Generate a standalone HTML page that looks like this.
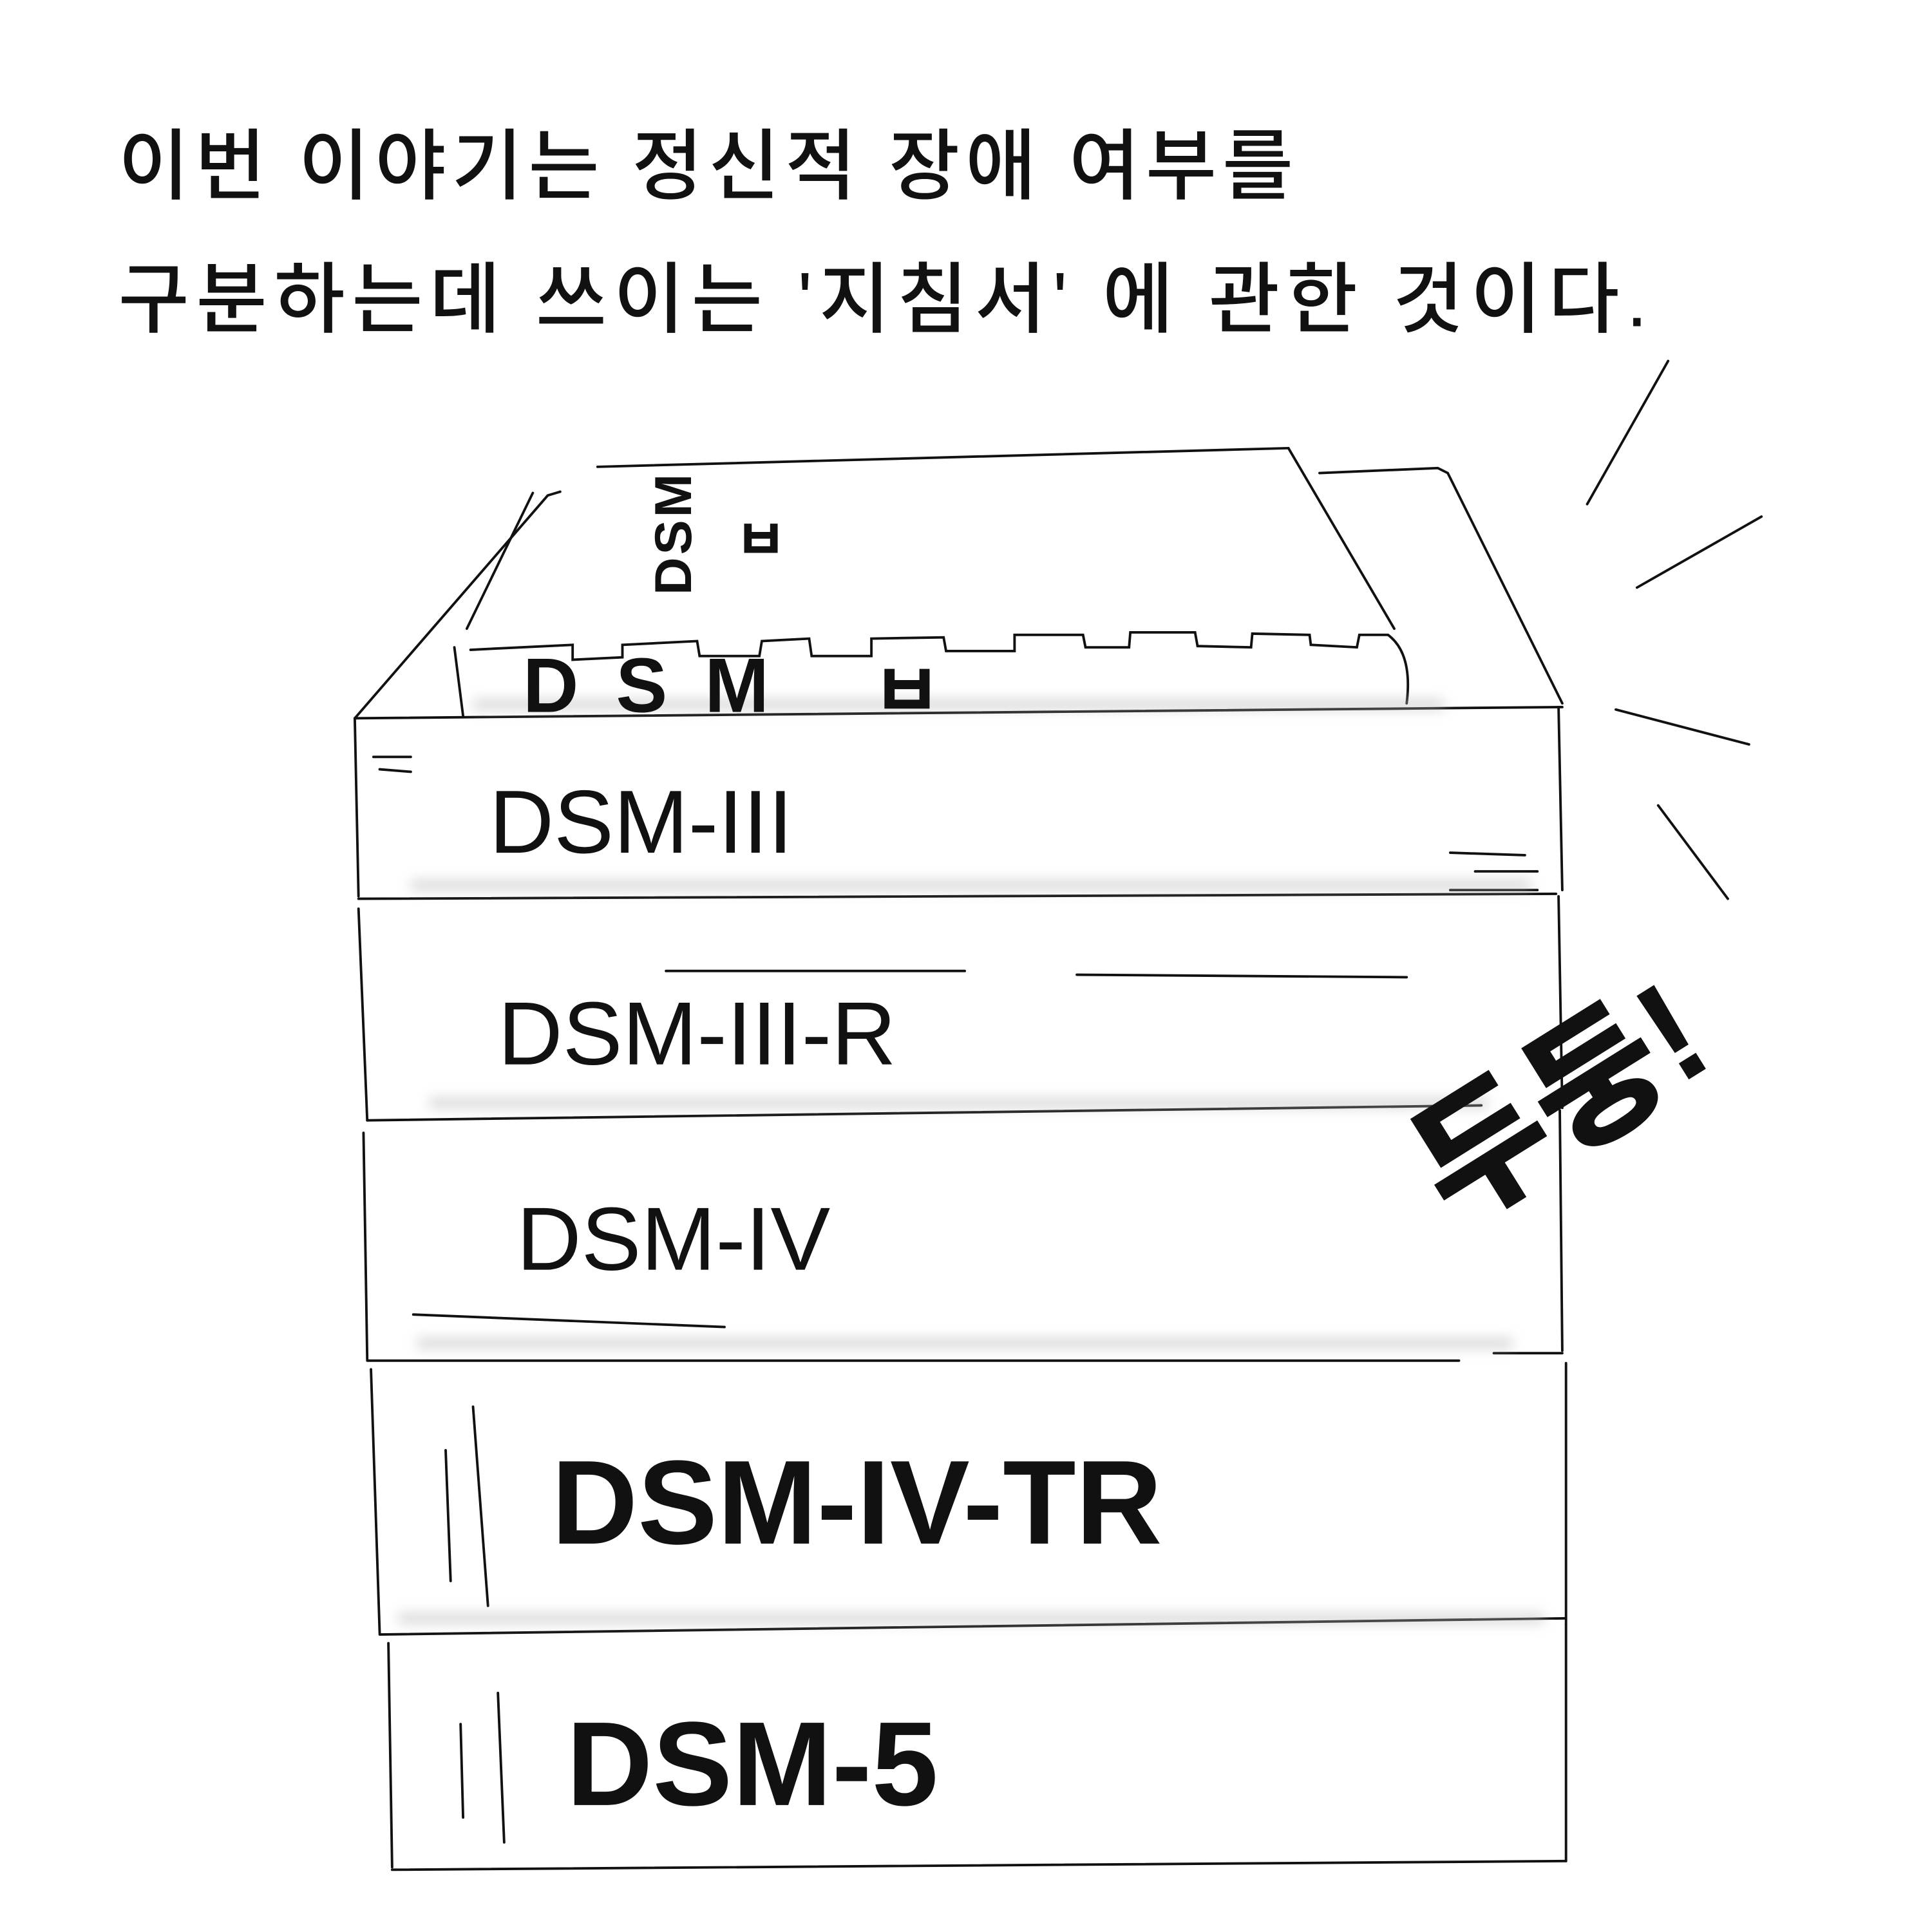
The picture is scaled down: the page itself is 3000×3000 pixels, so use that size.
<!DOCTYPE html>
<html><head><meta charset="utf-8"><style>
html,body{margin:0;padding:0;background:#fff;width:3000px;height:3000px;overflow:hidden}
svg{display:block}
.k{font-family:"Liberation Sans","Noto Sans CJK KR",sans-serif;fill:#111}
</style></head><body>
<svg width="3000" height="3000" viewBox="0 0 1552 1552" xmlns="http://www.w3.org/2000/svg">
<defs><filter id="b" x="-20%" y="-200%" width="140%" height="500%"><feGaussianBlur stdDeviation="5"/></filter></defs>
<text class="k" x="95" y="155" font-size="62" font-weight="500" letter-spacing="4.5">이번 이야기는 정신적 장애 여부를</text>
<text class="k" x="95" y="262" font-size="62" font-weight="500" letter-spacing="5.5">구분하는데 쓰이는 '지침서' 에 관한 것이다.</text>
<g stroke="#111" stroke-width="2" fill="none" stroke-linecap="round">
<path d="M1340 290 L1275 405"/><path d="M1415 415 L1315 472"/><path d="M1298 570 L1405 598"/><path d="M1332 647 L1388 722"/>
<path d="M285 577 L440 398 L450 395"/><path d="M480 375 L1035 360"/><path d="M1035 360 L1120 505"/>
<path d="M1060 380 L1155 376 L1163 380 L1255 565"/>
<path d="M428 396 L375 505"/><path d="M365 520 L372 575"/>
<path d="M378 522 L460 518 L460 530 L500 528 L500 518 L560 515 L562 527 L610 527 L612 515 L650 513 L652 527 L700 527 L700 513 L758 512 L760 523 L815 523 L815 510 L870 510 L872 520 L907 520 L908 508 L960 508 L962 519 L1005 520 L1006 509 L1052 510 L1053 518 L1090 520 L1092 510 L1115 510 Q1135 525 1130 565"/>
<path d="M285 577 L1255 568"/>
<path d="M285 577 L288 720"/><path d="M1252 568 L1255 715"/>
<path d="M288 722 L1250 718"/>
<path d="M288 730 L295 900"/><path d="M1252 720 L1255 890"/>
<path d="M295 900 L1190 888"/>
<path d="M292 910 L295 1092"/><path d="M1253 892 L1255 1085"/>
<path d="M295 1093 L1172 1093"/><path d="M1200 1087 L1255 1087"/>
<path d="M298 1100 L305 1312"/><path d="M1258 1095 L1258 1305"/>
<path d="M305 1313 L1258 1300"/>
<path d="M312 1320 L315 1500"/><path d="M1258 1305 L1258 1495"/>
<path d="M315 1502 L1258 1495"/>
<path d="M300 608 L330 608"/><path d="M305 618 L330 620"/>
<path d="M1165 685 L1225 687"/><path d="M1185 700 L1235 700"/><path d="M1165 715 L1235 715"/>
<path d="M535 780 L775 780"/><path d="M865 783 L1130 785"/>
<path d="M332 1056 L582 1066"/>
<path d="M380 1130 L392 1290"/><path d="M358 1165 L362 1270"/>
<path d="M400 1360 L405 1480"/><path d="M370 1385 L372 1460"/>
</g>
<g fill="#bbb" opacity="0.6" filter="url(#b)">
<rect x="380" y="562" width="780" height="8"/><rect x="330" y="707" width="900" height="8"/>
<rect x="345" y="882" width="850" height="8"/><rect x="335" y="1075" width="880" height="8"/>
<rect x="320" y="1296" width="920" height="8"/>
</g>
<text class="k" transform="translate(555 478) rotate(-90)" font-size="42" font-weight="bold" letter-spacing="2">DSM</text>
<text class="k" x="590" y="450" font-size="46" font-weight="bold">ㅂ</text>
<text class="k" x="420" y="572" font-size="62" font-weight="bold" letter-spacing="30">DSM</text>
<text class="k" x="700" y="577" font-size="62" font-weight="bold">ㅂ</text>
<g font-family="'Liberation Sans','DejaVu Sans',sans-serif" fill="#111">
<text x="393" y="685" font-size="72">DSM-III</text>
<text x="400" y="855" font-size="72">DSM-III-R</text>
<text x="415" y="1020" font-size="72">DSM-IV</text>
<text x="443" y="1240" font-size="96" font-weight="bold">DSM-IV-TR</text>
<text x="455" y="1450" font-size="96" font-weight="bold">DSM-5</text>
</g>
<text class="k" transform="translate(1168 985) rotate(-32)" font-size="115" font-weight="900">두둥!</text>
</svg>
</body></html>
